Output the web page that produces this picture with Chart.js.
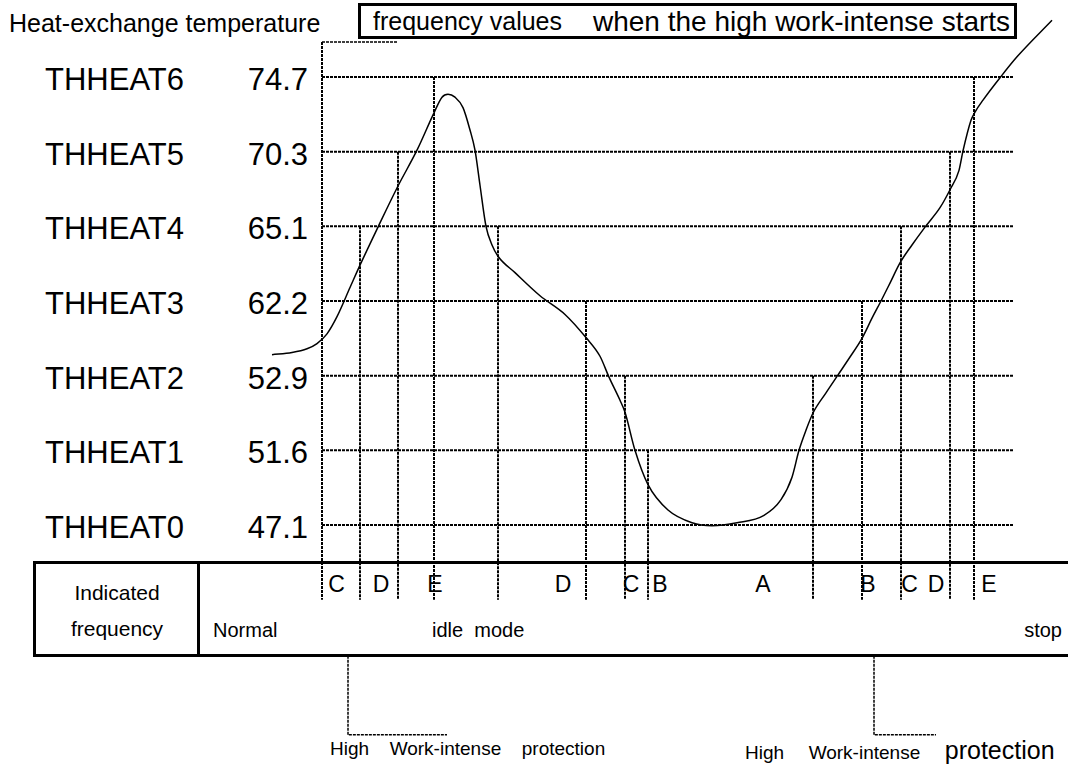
<!DOCTYPE html>
<html>
<head>
<meta charset="utf-8">
<script src="https://cdn.jsdelivr.net/npm/chart.js@4.4.1/dist/chart.umd.min.js"></script>
<style>
  html, body { margin: 0; padding: 0; background: #fff; }
  #wrap { position: relative; width: 1068px; height: 764px; overflow: hidden;
          font-family: "Liberation Sans", Arial, sans-serif; color: #000; }
  #wrap canvas { position: absolute; left: 0; top: 0; }
  .t { position: absolute; white-space: pre; line-height: 1; }
  .box { position: absolute; border: 3px solid #000; box-sizing: border-box; }
  .rule { position: absolute; background: #000; }
</style>
</head>
<body>
<div id="wrap">
  <div class="t" style="left:9px;top:11px;font-size:25px">Heat-exchange temperature</div>
  <div class="box" style="left:358px;top:3px;width:659px;height:36px"></div>
  <div class="t" style="left:373px;top:9px;font-size:25px">frequency values</div>
  <div class="t" style="left:593px;top:8px;font-size:28px">when the high work-intense starts</div>

  <!-- indicated frequency table -->
  <div class="rule" style="left:33px;top:561px;width:1040px;height:3px"></div>
  <div class="rule" style="left:33px;top:654px;width:1040px;height:3px"></div>
  <div class="rule" style="left:33px;top:561px;width:3px;height:96px"></div>
  <div class="rule" style="left:197px;top:561px;width:3px;height:96px"></div>
  <div class="t" style="left:117px;top:582px;font-size:21px;transform:translateX(-50%)">Indicated</div>
  <div class="t" style="left:117px;top:618px;font-size:21px;transform:translateX(-50%)">frequency</div>

  <div class="t" style="left:330px;top:739px;font-size:19px;word-spacing:5px">High  Work-intense  protection</div>
  <div class="t" style="left:745px;top:738px;font-size:19px;word-spacing:7px">High  Work-intense  <span style="font-size:25px;word-spacing:0">protection</span></div>
  <canvas id="c" width="1068" height="764"></canvas>
</div>
<script>
// temperature levels (equally spaced on the drawing)
const LEVELS = ['THHEAT0', 'THHEAT1', 'THHEAT2', 'THHEAT3', 'THHEAT4', 'THHEAT5', 'THHEAT6'];
const TEMPS = ['47.1', '51.6', '52.9', '62.2', '65.1', '70.3', '74.7'];

// heat-exchange temperature curve: time vs level
const CURVE_T = [-5.0, -3.0, -1.5, -0.5, 0.5, 1.5, 2.8, 3.8, 5.6, 7.6, 9.5, 11.2, 12.0, 12.6, 13.3, 14.1,
  14.8, 15.3, 15.8, 16.4, 17.0, 17.6, 19.3, 21.8, 24.3, 26.4, 27.8, 28.7, 29.8, 30.3, 31.3, 32.6,
  34.6, 37.0, 39.0, 41.5, 44.2, 45.9, 47.0, 47.7, 48.4, 49.1, 50.4, 51.6, 52.8, 54.0, 55.0, 55.9,
  56.8, 57.8, 59.0, 60.3, 61.8, 62.8, 63.7, 64.1, 64.9, 65.3, 66.1, 67.8, 69.5, 73.0];
const CURVE_LEVEL = [2.28, 2.31, 2.36, 2.43, 2.56, 2.79, 3.18, 3.48, 3.99, 4.54, 5.02, 5.52, 5.73, 5.77, 5.73, 5.59,
  5.29, 5.02, 4.55, 4.00, 3.75, 3.60, 3.38, 3.07, 2.82, 2.51, 2.26, 1.98, 1.67, 1.51, 1.00, 0.54,
  0.20, 0.03, -0.01, 0.03, 0.13, 0.34, 0.64, 1.00, 1.27, 1.50, 1.77, 2.01, 2.25, 2.50, 2.77, 3.00,
  3.24, 3.51, 3.75, 3.99, 4.25, 4.49, 4.75, 5.01, 5.42, 5.53, 5.69, 5.99, 6.27, 6.76];

// switching instants and the level each one starts from
const MARK_T = [0, 3.8, 7.6, 11.2, 17.6, 26.4, 30.3, 32.6, 49.1, 54.0, 57.9, 62.8, 65.2];
const MARK_TOP = [6.47, 4, 5, 6, 4, 3, 2, 1, 2, 3, 4, 5, 6];
const T_START = -5.5;
const T_END = 69.1;
const T_MAX = 74.1;
const ROW_BOTTOM = -1.0;

// frequency zones in the table row
const ZONE_LETTERS = ['C', 'D', 'E', 'D', 'C', 'B', 'A', 'B', 'C', 'D', 'E'];
const ZONE_T = [1.45, 5.9, 11.3, 24.1, 30.9, 33.8, 44.1, 54.6, 58.75, 61.4, 66.7];
const MODES = ['Normal', 'idle  mode', 'stop'];
const MODE_T = [-10.9, 11.0, 74.0];

// brackets: top start marker, two protection call-outs
const BRACKET_T = [[0, 7.5], [2.6, 12.5], [55.2, 61.4]];
const BRACKET_LEVEL = [6.47, -2.81, -2.81];
const BRACKET_FROM = [6.47, -1.75, -1.75];

const dash = { borderColor: '#000', borderWidth: 2, borderDash: [3, 1], pointRadius: 0, clip: false, fill: false };
const datasets = [];

LEVELS.forEach((_, i) => datasets.push({ ...dash, data: [{ x: 0, y: i }, { x: T_END, y: i }] }));
MARK_T.forEach((t, i) => datasets.push({ ...dash, data: [{ x: t, y: MARK_TOP[i] }, { x: t, y: ROW_BOTTOM }] }));
BRACKET_T.forEach((b, i) => datasets.push({ ...dash, borderWidth: 1.5,
  data: [{ x: b[0], y: BRACKET_FROM[i] }, { x: b[0], y: BRACKET_LEVEL[i] }, { x: b[1], y: BRACKET_LEVEL[i] }] }));
datasets.push({ borderColor: '#000', borderWidth: 1.5, pointRadius: 0, clip: false, fill: false,
  cubicInterpolationMode: 'monotone',
  data: CURVE_T.map((t, i) => ({ x: t, y: CURVE_LEVEL[i] })) });

// 10 px per time unit, t = 0 sits on the left frame line
const chart = new Chart(document.getElementById('c'), {
  type: 'line',
  data: { datasets },
  options: {
    responsive: false, animation: false, devicePixelRatio: 1,
    layout: { padding: { left: 267, right: 1068 - 267 - (T_MAX - T_START) * 10, top: 77, bottom: 239 } },
    plugins: { legend: { display: false }, tooltip: { enabled: false } },
    scales: {
      x: { type: 'linear', min: T_START, max: T_MAX, display: false },
      y: { type: 'linear', min: 0, max: 6, display: false }
    }
  }
});

// labels placed through the chart's scales
const wrap = document.getElementById('wrap');
const xs = chart.scales.x, ys = chart.scales.y;
function label(text, x, y, size, align) {
  const d = document.createElement('div');
  d.className = 't';
  d.textContent = text;
  d.style.fontSize = size + 'px';
  d.style.left = x + 'px';
  d.style.top = y + 'px';
  const tx = align === 'center' ? '-50%' : align === 'right' ? '-100%' : '0';
  d.style.transform = `translate(${tx}, -50%)`;
  wrap.insertBefore(d, wrap.querySelector('canvas'));
}
LEVELS.forEach((name, i) => {
  const y = ys.getPixelForValue(i) + 2;
  label(name, 45, y, 31, 'left');
  label(TEMPS[i], 308, y, 31, 'right');
});
ZONE_LETTERS.forEach((l, i) => label(l, xs.getPixelForValue(ZONE_T[i]), 584, 23, 'center'));
MODES.forEach((m, i) => label(m, xs.getPixelForValue(MODE_T[i]), 630, 20, i === 2 ? 'right' : 'left'));
</script>
</body>
</html>
